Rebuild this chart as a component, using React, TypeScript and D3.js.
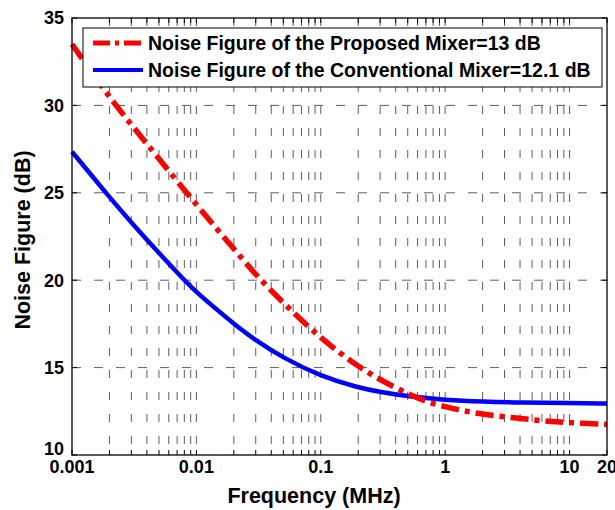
import React, { useEffect, useRef } from 'react';
import * as d3 from 'd3';

// frequency points (MHz) and noise figure readings (dB)
const proposedFreq = [0.001, 0.002, 0.003, 0.005, 0.01, 0.02, 0.03, 0.05, 0.1, 0.2, 0.3, 0.5, 0.7, 1, 2, 4, 7, 10, 20];
const proposedNF = [33.5, 30.45, 28.9, 26.95, 24.3, 21.8, 20.3, 18.7, 16.65, 15.05, 14.3, 13.5, 13.05, 12.75, 12.3, 12.1, 11.9, 11.85, 11.75];
const convFreq = [0.001, 0.002, 0.003, 0.005, 0.008, 0.01, 0.02, 0.03, 0.05, 0.1, 0.2, 0.3, 0.5, 1, 2, 4, 10, 20];
const convNF = [27.35, 24.75, 23.3, 21.55, 20.0, 19.3, 17.5, 16.55, 15.55, 14.5, 13.85, 13.6, 13.35, 13.15, 13.05, 13.0, 12.97, 12.95];

const xTickLabels = [0.001, 0.01, 0.1, 1, 10, 20];
const yTicks = [10, 15, 20, 25, 30, 35];
const legendLabels = [
  'Noise Figure of the Proposed Mixer=13 dB',
  'Noise Figure of the Conventional Mixer=12.1 dB',
];

const W = 615;
const H = 510;
const margin = { top: 18, right: 8, bottom: 55, left: 72 };
const font = '"Liberation Sans", Arial, Helvetica, sans-serif';
const redDash = '18,6,5,6';

export default function App() {
  const ref = useRef<SVGSVGElement>(null);

  useEffect(() => {
    const svg = d3.select(ref.current);
    svg.selectAll('*').remove();

    const x = d3.scaleLog().domain([0.001, 20]).range([margin.left, W - margin.right]);
    const y = d3.scaleLinear().domain([10, 35]).range([H - margin.bottom, margin.top]);
    const [x0, x1] = x.range();
    const [y0, y1] = y.range();

    // log grid positions: 1..9 in each decade
    const gridX: number[] = [];
    for (let e = -3; e <= 1; e++) {
      for (let m = 1; m <= 9; m++) {
        const v = m * Math.pow(10, e);
        if (v > 0.001 && v < 20) gridX.push(v);
      }
    }

    const g = svg.append('g');

    g.selectAll('.vgrid')
      .data(gridX)
      .join('line')
      .attr('x1', d => x(d)).attr('x2', d => x(d))
      .attr('y1', y1).attr('y2', y0)
      .attr('stroke', '#333')
      .attr('stroke-width', 0.8)
      .attr('stroke-dasharray', '8,14');

    g.selectAll('.hgrid')
      .data(yTicks.filter(v => v > 10 && v < 35))
      .join('line')
      .attr('x1', x0).attr('x2', x1)
      .attr('y1', d => y(d)).attr('y2', d => y(d))
      .attr('stroke', '#333')
      .attr('stroke-width', 0.8)
      .attr('stroke-dasharray', '9,13');

    // inward ticks
    const tickLen = 5;
    gridX.concat([0.001, 20]).forEach(v => {
      g.append('line').attr('x1', x(v)).attr('x2', x(v)).attr('y1', y0).attr('y2', y0 - tickLen).attr('stroke', '#000');
      g.append('line').attr('x1', x(v)).attr('x2', x(v)).attr('y1', y1).attr('y2', y1 + tickLen).attr('stroke', '#000');
    });
    yTicks.forEach(v => {
      g.append('line').attr('x1', x0).attr('x2', x0 + tickLen).attr('y1', y(v)).attr('y2', y(v)).attr('stroke', '#000');
      g.append('line').attr('x1', x1).attr('x2', x1 - tickLen).attr('y1', y(v)).attr('y2', y(v)).attr('stroke', '#000');
    });

    const lineGen = d3.line<[number, number]>()
      .x(d => x(d[0]))
      .y(d => y(d[1]))
      .curve(d3.curveBasis);

    g.append('path')
      .datum(convFreq.map((f, i) => [f, convNF[i]] as [number, number]))
      .attr('d', lineGen)
      .attr('fill', 'none')
      .attr('stroke', '#0000ff')
      .attr('stroke-width', 4.5);

    g.append('path')
      .datum(proposedFreq.map((f, i) => [f, proposedNF[i]] as [number, number]))
      .attr('d', lineGen)
      .attr('fill', 'none')
      .attr('stroke', '#ff0000')
      .attr('stroke-width', 5.5)
      .attr('stroke-dasharray', redDash);

    // frame
    g.append('rect')
      .attr('x', x0).attr('y', y1)
      .attr('width', x1 - x0).attr('height', y0 - y1)
      .attr('fill', 'none').attr('stroke', '#000').attr('stroke-width', 1.3);

    // tick labels
    g.selectAll('.xl')
      .data(xTickLabels)
      .join('text')
      .attr('x', d => x(d))
      .attr('y', y0 + 18)
      .attr('text-anchor', 'middle')
      .attr('font-family', font).attr('font-weight', 'bold').attr('font-size', 18)
      .text(d => String(d));

    g.selectAll('.yl')
      .data(yTicks)
      .join('text')
      .attr('x', x0 - 8)
      .attr('y', d => (d === 10 ? y(d) - 6 : y(d)))
      .attr('dy', '0.36em')
      .attr('text-anchor', 'end')
      .attr('font-family', font).attr('font-weight', 'bold').attr('font-size', 18)
      .text(d => String(d));

    g.append('text')
      .attr('x', 314)
      .attr('y', 503)
      .attr('text-anchor', 'middle')
      .attr('font-family', font).attr('font-weight', 'bold').attr('font-size', 21.5)
      .text('Frequency (MHz)');

    g.append('text')
      .attr('transform', `translate(30,240) rotate(-90)`)
      .attr('text-anchor', 'middle')
      .attr('font-family', font).attr('font-weight', 'bold').attr('font-size', 21.5)
      .text('Noise Figure (dB)');

    // legend
    const lg = g.append('g');
    lg.append('rect')
      .attr('x', 83).attr('y', 28).attr('width', 519).attr('height', 59)
      .attr('fill', '#fff').attr('stroke', '#000').attr('stroke-width', 1);
    const styles = [
      { color: '#ff0000', w: 5, dash: '17,5,4,5' },
      { color: '#0000ff', w: 4, dash: null },
    ];
    legendLabels.forEach((label, i) => {
      const ly = 43 + i * 27;
      const ln = lg.append('line')
        .attr('x1', 93).attr('x2', 143).attr('y1', ly).attr('y2', ly)
        .attr('stroke', styles[i].color).attr('stroke-width', styles[i].w);
      if (styles[i].dash) ln.attr('stroke-dasharray', styles[i].dash);
      lg.append('text')
        .attr('x', 148).attr('y', ly).attr('dy', '0.36em')
        .attr('font-family', font).attr('font-weight', 'bold').attr('font-size', 19.5)
        .text(label);
    });
  }, []);

  return (
    <svg ref={ref} width={W} height={H} style={{ position: 'absolute', left: 0, top: 0, background: '#fff' }} />
  );
}
